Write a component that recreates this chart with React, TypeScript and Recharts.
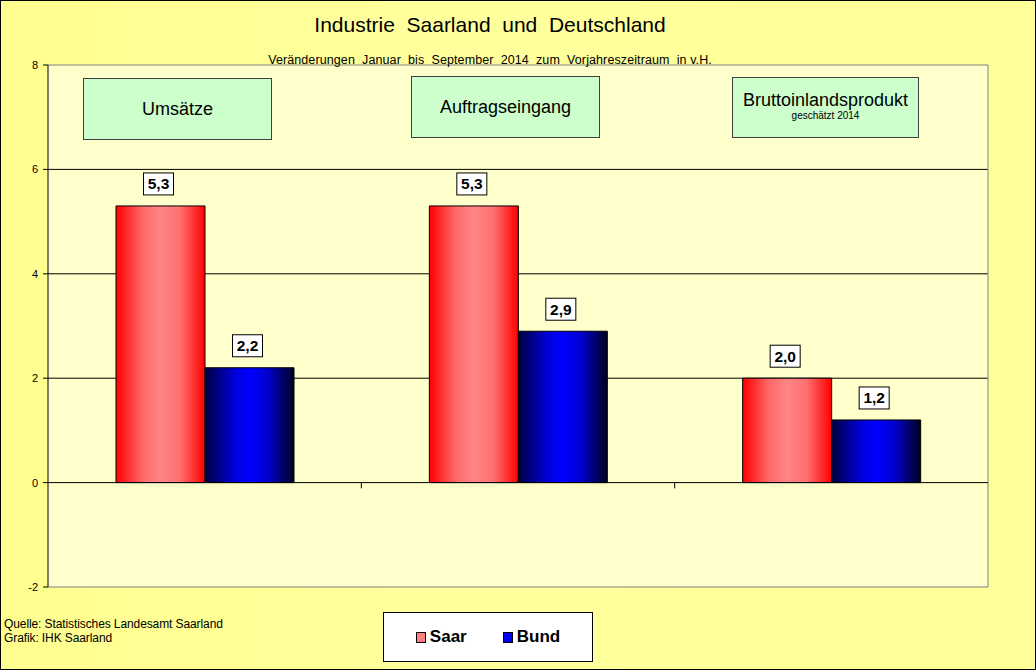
import { BarChart, Bar, XAxis, YAxis, CartesianGrid, ReferenceLine, LabelList } from "recharts";

const KATEGORIEN = ["Umsätze", "Auftragseingang", "Bruttoinlandsprodukt"];
const SAAR = [5.3, 5.3, 2.0];
const BUND = [2.2, 2.9, 1.2];
const Y_TICKS = [-2, 0, 2, 4, 6, 8];
const UNTERTITEL = ["", "", "geschätzt 2014"];

const data = KATEGORIEN.map((name, i) => ({ name, saar: SAAR[i], bund: BUND[i] }));

const FONT = '"Liberation Sans", Arial, sans-serif';

// Beschriftungsboxen über den Kategorien (wie im Excel-Original frei platziert)
const BOXEN = [
  { left: 83, top: 78, w: 189, h: 62 },
  { left: 411, top: 76, w: 189, h: 62 },
  { left: 732, top: 77, w: 187, h: 61 },
];

function WertLabel(props: any) {
  const { x, y, width, value } = props;
  const cx = x + width / 2 - 2;
  const bottom = y - 11;
  return (
    <g>
      <rect x={cx - 15} y={bottom - 22} width={30} height={22} fill="#fff" stroke="#000" strokeWidth={1} />
      <text x={cx} y={bottom - 5.5} textAnchor="middle" fontFamily={FONT} fontWeight="bold" fontSize={15.5} fill="#000">
        {Number(value).toFixed(1).replace(".", ",")}
      </text>
    </g>
  );
}

export default function App() {
  return (
    <div
      style={{
        position: "absolute",
        left: 0,
        top: 0,
        width: 1036,
        height: 670,
        boxSizing: "border-box",
        border: "1px solid #000",
        background: "linear-gradient(90deg, #FFFF8F 0%, #FFFF9C 40%, #FFFF99 100%)",
        fontFamily: FONT,
      }}
    >
      <BarChart
        width={1034}
        height={668}
        data={data}
        margin={{ top: 64, right: 47, bottom: 82, left: 7 }}
        barGap={0}
        barSize={89}
      >
        <defs>
          <linearGradient id="saarGrad" x1="0" y1="0" x2="1" y2="0">
            <stop offset="0%" stopColor="#FF0000" />
            <stop offset="30%" stopColor="#FF6A6A" />
            <stop offset="50%" stopColor="#FF8585" />
            <stop offset="72%" stopColor="#FF7070" />
            <stop offset="100%" stopColor="#FF0000" />
          </linearGradient>
          <linearGradient id="bundGrad" x1="0" y1="0" x2="1" y2="0">
            <stop offset="0%" stopColor="#000040" />
            <stop offset="35%" stopColor="#0000E0" />
            <stop offset="50%" stopColor="#0000FF" />
            <stop offset="70%" stopColor="#0000D0" />
            <stop offset="100%" stopColor="#000020" />
          </linearGradient>
        </defs>
        <CartesianGrid
          vertical={false}
          horizontalValues={[2, 4, 6]}
          stroke="#000"
          strokeWidth={1}
          fill="#FFFFCC"
          fillOpacity={1}
        />
        <XAxis dataKey="name" hide />
        <YAxis
          width={40}
          domain={[-2, 8]}
          ticks={Y_TICKS}
          interval={0}
          allowDataOverflow
          tick={{ fontSize: 11, fill: "#000", fontFamily: FONT }}
          tickSize={5}
          tickMargin={5}
          axisLine={{ stroke: "#000" }}
          tickLine={{ stroke: "#000" }}
        />
        <ReferenceLine y={8} stroke="#808080" />
        <ReferenceLine y={-2} stroke="#808080" />
        <ReferenceLine x={KATEGORIEN[2]} position="end" stroke="#808080" />
        <Bar dataKey="saar" name="Saar" fill="url(#saarGrad)" stroke="#000" strokeWidth={1} isAnimationActive={false}>
          <LabelList dataKey="saar" content={WertLabel} />
        </Bar>
        <Bar dataKey="bund" name="Bund" fill="url(#bundGrad)" stroke="#000" strokeWidth={1} isAnimationActive={false}>
          <LabelList dataKey="bund" content={WertLabel} />
        </Bar>
        <ReferenceLine y={0} stroke="#000" />
        {KATEGORIEN.slice(1).map((k) => (
          <ReferenceLine
            key={k}
            position="start"
            segment={[{ x: k, y: 0 }, { x: k, y: -0.11 }]}
            stroke="#000"
          />
        ))}
      </BarChart>

      <div
        style={{
          position: "absolute",
          left: 0,
          width: 978,
          top: 12,
          textAlign: "center",
          fontSize: 21,
          whiteSpace: "pre",
          color: "#000",
        }}
      >
        {"Industrie  Saarland  und  Deutschland"}
      </div>
      <div
        style={{
          position: "absolute",
          left: 0,
          width: 978,
          top: 52,
          textAlign: "center",
          fontSize: 12.5,
          letterSpacing: 0.1,
          whiteSpace: "pre",
          color: "#000",
        }}
      >
        {"Veränderungen  Januar  bis  September  2014  zum  Vorjahreszeitraum  in v.H."}
      </div>

      {KATEGORIEN.map((k, i) => (
        <div
          key={k}
          style={{
            position: "absolute",
            left: BOXEN[i].left - 1,
            top: BOXEN[i].top - 1,
            width: BOXEN[i].w,
            height: BOXEN[i].h,
            boxSizing: "border-box",
            background: "#CCFFCC",
            border: "1px solid #404040",
            display: "flex",
            flexDirection: "column",
            alignItems: "center",
            justifyContent: "center",
            color: "#000",
          }}
        >
          <div style={{ fontSize: 18, lineHeight: "20px" }}>{k}</div>
          {UNTERTITEL[i] && <div style={{ fontSize: 10, lineHeight: "12px", marginBottom: 4 }}>{UNTERTITEL[i]}</div>}
        </div>
      ))}

      <div
        style={{
          position: "absolute",
          left: 3,
          top: 616,
          fontSize: 12,
          lineHeight: "14px",
          letterSpacing: -0.1,
          color: "#000",
        }}
      >
        <div>Quelle: Statistisches Landesamt Saarland</div>
        <div>Grafik: IHK Saarland</div>
      </div>

      <div
        style={{
          position: "absolute",
          left: 382,
          top: 611,
          width: 210,
          height: 50,
          boxSizing: "border-box",
          background: "#fff",
          border: "1px solid #000",
          display: "flex",
          alignItems: "center",
          justifyContent: "center",
          gap: 36,
        }}
      >
        {[
          { name: "Saar", color: "#FF8080" },
          { name: "Bund", color: "#0000FF" },
        ].map((s) => (
          <div key={s.name} style={{ display: "flex", alignItems: "center", gap: 4 }}>
            <span
              style={{
                display: "inline-block",
                width: 8,
                height: 9,
                background: s.color,
                border: "1px solid #000",
              }}
            />
            <span style={{ fontSize: 17, fontWeight: "bold", color: "#000" }}>{s.name}</span>
          </div>
        ))}
      </div>
    </div>
  );
}
